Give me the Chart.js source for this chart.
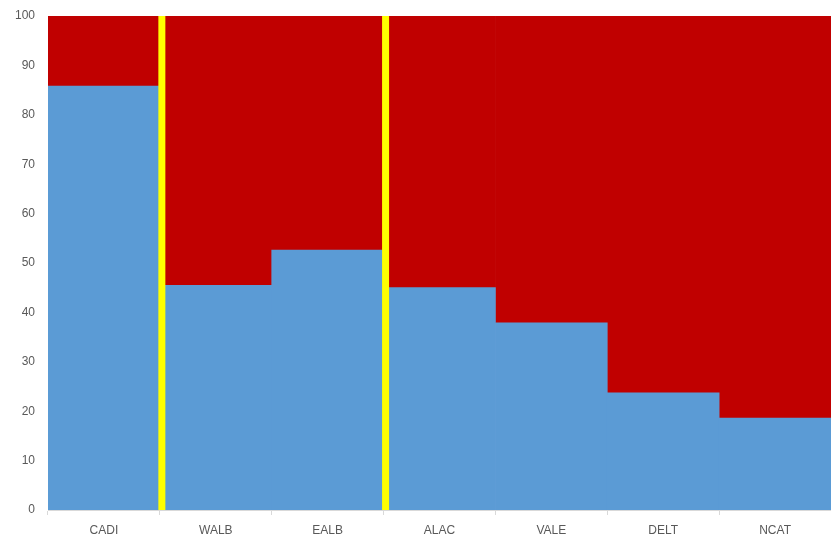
<!DOCTYPE html>
<html lang="en">
<head>
    <meta charset="UTF-8">
    <title>Share by region</title>
    <script src="https://cdn.jsdelivr.net/npm/chart.js"></script>
</head>
<style>
    body {
        margin: 0;
        padding: 0;
        background-color: #FFF;
    }

    .caixa {
        width: 831px;
        height: 536px;
    }
</style>
<body>
    <div class="caixa">
        <canvas id="grafico"></canvas>
    </div>
</body>
<script>
    // dados
    const regioes = ['CADI', 'WALB', 'EALB', 'ALAC', 'VALE', 'DELT', 'NCAT'];
    const azul = [85.8, 45.5, 52.6, 45.0, 37.9, 23.7, 18.6];
    const vermelho = [14.2, 54.5, 47.4, 55.0, 62.1, 76.3, 81.4];
    const ticksY = [0, 10, 20, 30, 40, 50, 60, 70, 80, 90, 100];
    // linha amarela depois destas categorias
    const separadores = ['CADI', 'EALB'];

    // desenha as linhas amarelas entre as barras
    const linhasAmarelas = {
        id: 'linhasAmarelas',
        afterDatasetsDraw(chart) {
            const ctx = chart.ctx;
            const x = chart.scales.x;
            const area = chart.chartArea;
            ctx.save();
            ctx.strokeStyle = '#FFFF00';
            ctx.lineWidth = 7;
            separadores.forEach(function (nome) {
                const i = regioes.indexOf(nome);
                const meio = (x.getPixelForValue(i) + x.getPixelForValue(i + 1)) / 2 + 2;
                ctx.beginPath();
                ctx.moveTo(meio, area.top);
                ctx.lineTo(meio, area.bottom);
                ctx.stroke();
            });
            ctx.restore();
        }
    };

    Chart.defaults.font.family = "'Liberation Sans', Arial, sans-serif";
    Chart.defaults.font.size = 12;
    Chart.defaults.color = '#595959';

    const chartData = {
        labels: regioes,
        datasets: [{
            label: 'azul',
            data: azul,
            backgroundColor: '#5B9BD5',
            borderWidth: 0
        },
        {
            label: 'vermelho',
            data: vermelho,
            backgroundColor: '#C00000',
            borderWidth: 0
        }]
    };

    const config = {
        type: 'bar',
        data: chartData,
        options: {
            responsive: true,
            maintainAspectRatio: false,
            animation: false,
            datasets: {
                bar: {
                    categoryPercentage: 1,
                    barPercentage: 1
                }
            },
            layout: {
                padding: { top: 16, right: 0, left: 0, bottom: 0 }
            },
            scales: {
                x: {
                    stacked: true,
                    border: { color: '#D9D9D9', width: 1 },
                    grid: {
                        offset: true,
                        drawOnChartArea: false,
                        color: '#D9D9D9',
                        tickLength: 5
                    },
                    ticks: { padding: 8 },
                    afterFit: function (scale) { scale.height = 26; }
                },
                y: {
                    stacked: true,
                    min: 0,
                    max: 100,
                    border: { display: false },
                    grid: { display: false },
                    afterBuildTicks: function (scale) {
                        scale.ticks = ticksY.map(function (v) { return { value: v }; });
                    },
                    ticks: { padding: 5 },
                    afterFit: function (scale) { scale.width = 48; }
                }
            },
            plugins: {
                legend: { display: false },
                tooltip: { enabled: false }
            }
        },
        plugins: [linhasAmarelas]
    };

    new Chart(document.getElementById('grafico'), config);
</script>
</html>
